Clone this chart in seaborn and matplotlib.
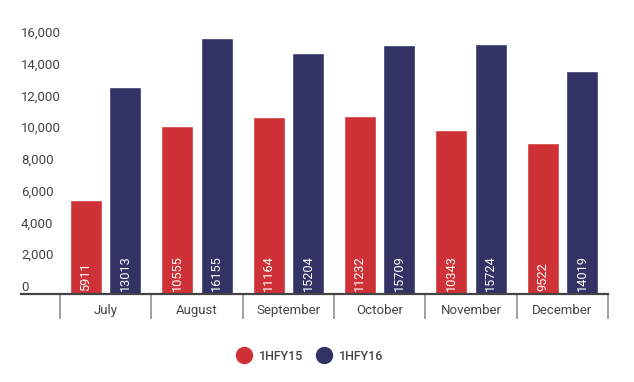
import numpy as np
import pandas as pd
import matplotlib
matplotlib.use("Agg")
import matplotlib.pyplot as plt
import matplotlib.transforms as mtransforms
from matplotlib.lines import Line2D
import seaborn as sns

# data
months = ["July", "August", "September", "October", "November", "December"]
fy15 = [5911, 10555, 11164, 11232, 10343, 9522]
fy16 = [13013, 16155, 15204, 15709, 15724, 14019]
series = ["1HFY15", "1HFY16"]
yticks = [0, 2000, 4000, 6000, 8000, 10000, 12000, 14000, 16000]

RED = "#CE3236"
NAVY = "#323264"
TXT = "#444444"

sns.set_theme(style="white")
plt.rcParams["font.family"] = ["Roboto", "DejaVu Sans"]

df = pd.DataFrame({
    "month": months * 2,
    "value": fy15 + fy16,
    "series": [series[0]] * len(months) + [series[1]] * len(months),
})

fig = plt.figure(figsize=(6.34, 3.82), dpi=100)
ax = fig.add_axes([21 / 634, 88 / 382, 587 / 634, 274 / 382])

sns.barplot(data=df, x="month", y="value", hue="series", order=months,
            hue_order=series, palette=[RED, NAVY], width=0.865, gap=0.19,
            saturation=1, errorbar=None, legend=False, ax=ax)

ax.set_xlim(-0.5 - 39 / 91.33, len(months) - 0.5)
ax.set_ylim(0, 17260)
ax.set_xlabel("")
ax.set_ylabel("")

# y ticks: labels left aligned, sitting a bit above their value
ax.set_yticks(yticks)
ax.set_yticklabels([f"{v:,}" for v in yticks])
ax.tick_params(axis="y", length=0, pad=0, labelsize=9.5, labelcolor=TXT)
off = mtransforms.ScaledTranslation(0, 3 / 100, fig.dpi_scale_trans)
for lab in ax.get_yticklabels():
    lab.set_horizontalalignment("left")
    lab.set_verticalalignment("baseline")
    lab.set_transform(lab.get_transform() + off)

# x ticks: labels at centres, separators as minor ticks
ax.set_xticks(range(len(months)))
ax.set_xticklabels(months)
ax.set_xticks(np.arange(-0.5, len(months)), minor=True)
ax.tick_params(axis="x", which="major", length=0, pad=7, labelsize=9.5, labelcolor=TXT)
ax.tick_params(axis="x", which="minor", bottom=True, length=18, width=1.3, color="#9a9a9a", direction="out")

for side in ["top", "right", "left"]:
    ax.spines[side].set_visible(False)
ax.spines["bottom"].set_color("#444444")
ax.spines["bottom"].set_linewidth(1.6)

# values written inside the bars
for cont, vals in zip(ax.containers, [fy15, fy16]):
    for bar, v in zip(cont, vals):
        ax.annotate(str(v), (bar.get_x() + bar.get_width() / 2, 0),
                    xytext=(0, 2.5), textcoords="offset points",
                    rotation=90, ha="center", va="bottom",
                    color="white", fontsize=9.2)

handles = [Line2D([], [], marker="o", linestyle="", markersize=11.5,
                  markerfacecolor=c, markeredgecolor=c) for c in [RED, NAVY]]
leg = fig.legend(handles, series, loc="center", bbox_to_anchor=(310 / 634, 26 / 382),
                 ncol=2, frameon=False, handlelength=1.2, handletextpad=0.6,
                 columnspacing=1.0, prop={"size": 9, "weight": "medium"})
for t in leg.get_texts():
    t.set_color(TXT)

fig.savefig("out.png", dpi=100)
